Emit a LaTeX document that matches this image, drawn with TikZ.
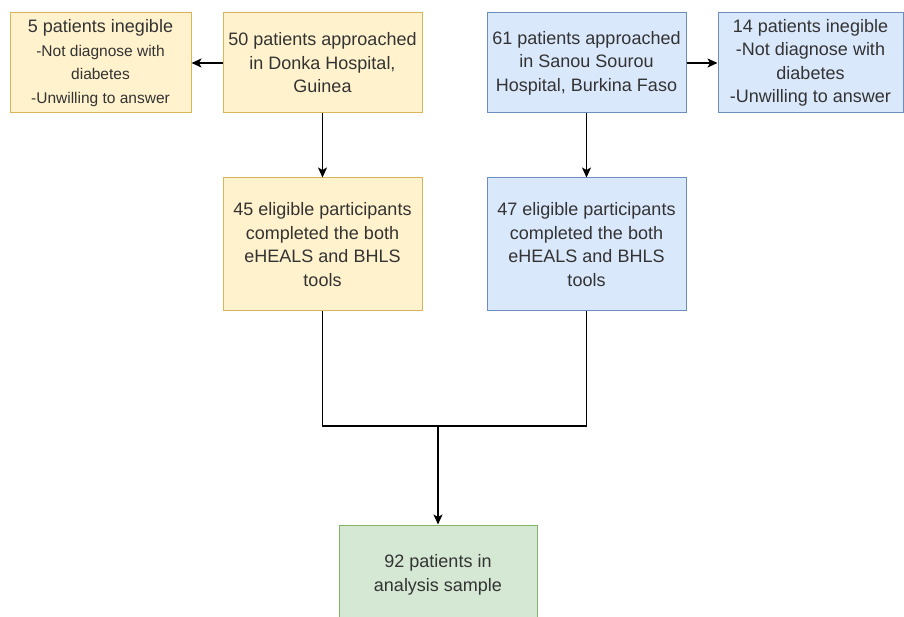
\documentclass[tikz,border=0pt]{standalone}
\usepackage{fontspec}
\setmainfont{Liberation Sans}
\usepackage{tikz}
\usetikzlibrary{shapes.geometric, arrows, arrows.meta}
\definecolor{yfill}{HTML}{FFF2CC}
\definecolor{ydraw}{HTML}{D6B656}
\definecolor{bfill}{HTML}{DAE8FC}
\definecolor{bdraw}{HTML}{6C8EBF}
\definecolor{gfill}{HTML}{D5E8D4}
\definecolor{gdraw}{HTML}{82B366}
\tikzstyle{arrow} = [line width=1.5pt,->,>={Stealth[length=10pt,width=9pt,inset=2.5pt]}]
\tikzstyle{line} = [line width=1.5pt]
\tikzstyle{box} = [rectangle, line width=1pt, minimum width=199pt, minimum height=100pt, inner sep=0pt, align=center, text=black!80, font=\fontsize{18}{23.5}\selectfont]
\tikzstyle{ybox} = [box, draw=ydraw, fill=yfill]
\tikzstyle{bbox} = [box, draw=bdraw, fill=bfill]
\tikzstyle{gbox} = [box, draw=gdraw, fill=gfill]
\newcommand{\smalltxt}{\fontsize{15.5}{23.5}\selectfont}

\begin{document}
\begin{tikzpicture}[x=1pt,y=-1pt]
\useasboundingbox (0,0) rectangle (904,617);
\node[ybox, minimum width=181pt] (exclDonka) at (100.5,63) {5 patients inegible\\{\smalltxt -Not diagnose with}\\{\smalltxt diabetes}\\{\smalltxt -Unwilling to answer}};
\node[ybox] (donka) at (322.5,63) {50 patients approached\\in Donka Hospital,\\Guinea};
\node[bbox] (sanou) at (586.5,63) {61 patients approached\\in Sanou Sourou\\Hospital, Burkina Faso};
\node[bbox, minimum width=185pt] (exclSanou) at (810.5,63) {14 patients inegible\\-Not diagnose with\\diabetes\\-Unwilling to answer};
\node[ybox, minimum height=133pt] (eligDonka) at (322.5,244.5) {45 eligible participants\\completed the both\\eHEALS and BHLS\\tools};
\node[bbox, minimum height=133pt] (eligSanou) at (586.5,244.5) {47 eligible participants\\completed the both\\eHEALS and BHLS\\tools};
\node[gbox, minimum width=198pt] (sample) at (438,575) {92 patients in\\analysis sample};
\coordinate (merge) at (438,426);
\draw[arrow] (donka) -- (exclDonka);
\draw[arrow] (sanou) -- (exclSanou);
\draw[arrow] (donka) -- (eligDonka);
\draw[arrow] (sanou) -- (eligSanou);
\draw[line] (eligDonka.south) |- (merge) -| (eligSanou.south);
\draw[arrow] (merge) -- (sample);
\end{tikzpicture}
\end{document}
